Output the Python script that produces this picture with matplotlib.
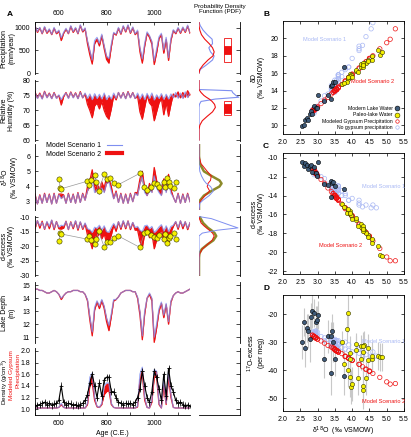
import numpy as np
import matplotlib
matplotlib.use('Agg')
import matplotlib.pyplot as plt
from matplotlib.patches import Rectangle
from matplotlib.lines import Line2D

plt.rcParams['font.family'] = ['Liberation Sans', 'DejaVu Sans']
plt.rcParams['font.size'] = 5
plt.rcParams['axes.linewidth'] = 0.6
plt.rcParams['axes.unicode_minus'] = False

# ---- model time series (10-yr steps, 500-1150 C.E.) ----
years = np.arange(500, 1151, 10)

precip_s1 = [1050, 920, 1010, 880, 1030, 900, 980, 860, 1010, 890,
             950, 780, 900, 990, 880, 1050, 920, 1010, 880, 1070,
             930, 1000, 720, 500, 290, 720, 790, 660, 860, 610,
             380, 320, 640, 900, 860, 1010, 880, 1050, 930, 1070,
             900, 1020, 870, 950, 560, 310, 660, 910, 830, 700,
             270, 530, 800, 880, 510, 790, 340, 770, 960, 890,
             1010, 900, 1020, 920, 1060, 900]
precip_s2 = [1040, 900, 1000, 870, 1010, 880, 960, 850, 990, 870,
             930, 720, 880, 970, 870, 1030, 900, 990, 870, 1050,
             910, 980, 650, 400, 200, 650, 740, 600, 820, 540,
             300, 220, 580, 880, 840, 990, 860, 1030, 910, 1050,
             880, 1000, 850, 920, 470, 220, 600, 880, 790, 640,
             190, 450, 760, 850, 440, 740, 280, 720, 940, 870,
             990, 880, 1000, 900, 1040, 880]

rh_s1 = [76.0, 74.0, 75.5, 73.8, 76.2, 74.2, 75.6, 73.9, 75.8, 74.0,
         75.2, 73.6, 75.0, 75.8, 74.0, 76.0, 74.2, 75.7, 73.9, 76.0,
         74.2, 75.8, 74.0, 75.5, 73.6, 75.6, 74.0, 75.4, 73.8, 75.8,
         73.6, 75.0, 73.8, 75.8, 74.0, 76.0, 74.1, 75.9, 73.9, 76.1,
         74.2, 75.9, 74.0, 75.8, 73.8, 75.5, 73.6, 75.7, 74.0, 75.8,
         73.5, 75.2, 74.0, 75.6, 73.7, 75.4, 73.8, 75.5, 74.2, 76.0,
         74.1, 75.8, 74.0, 76.2, 74.3, 75.9]
rh_s2 = [76.2, 74.2, 75.8, 74.0, 76.4, 74.4, 75.8, 74.0, 76.0, 74.2,
         75.0, 71.8, 74.6, 76.0, 74.2, 76.2, 74.4, 75.9, 74.0, 76.3,
         74.2, 75.5, 72.0, 70.0, 67.5, 71.5, 72.5, 70.5, 73.0, 70.0,
         68.0, 67.0, 70.5, 75.0, 73.5, 76.0, 74.2, 76.0, 74.0, 76.3,
         74.3, 76.0, 74.0, 74.8, 69.5, 67.0, 71.0, 75.0, 72.5, 71.5,
         66.5, 69.5, 72.5, 74.0, 68.5, 72.5, 68.0, 72.0, 75.5, 74.5,
         76.2, 74.2, 76.0, 74.4, 76.6, 75.0]

d18o_s1 = [3.45, 2.85, 3.40, 2.90, 3.50, 2.95, 3.45, 2.85, 3.50, 2.90,
           3.45, 3.20, 3.40, 2.90, 3.50, 2.95, 3.45, 2.90, 3.55, 2.95,
           3.50, 3.10, 3.70, 4.00, 4.55, 3.60, 3.80, 3.50, 3.90, 3.60,
           4.20, 4.30, 3.70, 3.20, 3.60, 2.95, 3.50, 2.90, 3.45, 2.90,
           3.50, 3.00, 3.55, 3.40, 4.20, 4.60, 3.60, 3.40, 3.80, 3.60,
           4.70, 3.90, 3.60, 3.40, 4.20, 3.60, 4.40, 3.55, 3.30, 2.95,
           3.50, 2.90, 3.45, 2.95, 3.50, 3.00]
d18o_s2 = [3.50, 2.85, 3.45, 2.90, 3.55, 2.95, 3.50, 2.85, 3.55, 2.90,
           3.50, 3.50, 3.45, 2.90, 3.55, 2.95, 3.50, 2.90, 3.60, 2.95,
           3.55, 3.10, 4.00, 4.40, 5.10, 4.00, 4.20, 3.80, 4.30, 3.90,
           4.60, 4.50, 4.00, 3.20, 3.70, 2.95, 3.55, 2.90, 3.50, 2.90,
           3.55, 3.00, 3.60, 3.60, 4.50, 5.00, 3.90, 3.40, 4.20, 3.80,
           5.25, 4.40, 3.90, 3.60, 4.50, 3.90, 4.80, 3.80, 3.30, 2.95,
           3.55, 2.90, 3.50, 2.95, 3.55, 3.00]

dex_s1 = [-13.5, -11.2, -13.0, -11.8, -14.0, -11.5, -13.2, -11.0, -13.8, -11.6,
          -13.4, -12.8, -13.0, -11.5, -14.2, -11.8, -13.5, -11.2, -14.0, -11.6,
          -13.8, -12.0, -14.0, -14.3, -15.3, -13.5, -13.8, -12.8, -14.5, -13.0,
          -15.0, -15.2, -13.5, -12.2, -13.8, -11.6, -13.6, -11.2, -13.5, -11.4,
          -13.8, -11.8, -13.6, -13.2, -14.5, -15.0, -13.0, -12.8, -14.0, -13.2,
          -15.3, -14.5, -13.4, -12.6, -14.8, -13.0, -15.0, -13.2, -12.8, -11.5,
          -13.6, -11.3, -13.2, -11.6, -13.8, -11.9]
dex_s2 = [-14.0, -11.2, -13.8, -11.4, -14.2, -11.7, -14.0, -11.1, -14.3, -11.5,
          -14.0, -14.1, -13.8, -11.4, -14.3, -11.6, -14.0, -11.4, -14.5, -11.7,
          -14.2, -12.3, -16.2, -17.9, -20.9, -16.1, -17.0, -15.3, -17.5, -15.8,
          -18.8, -18.3, -16.2, -12.7, -14.9, -11.6, -14.2, -11.4, -14.0, -11.3,
          -14.3, -11.9, -14.5, -14.4, -18.3, -20.5, -15.7, -13.6, -17.1, -15.4,
          -20.9, -17.9, -15.7, -14.4, -18.4, -15.8, -19.6, -15.3, -13.2, -11.6,
          -14.2, -11.3, -14.0, -11.6, -14.3, -11.9]

o17_s1 = [-29.0, -26.5, -31.5, -28.0, -30.0, -26.0, -32.0, -27.5, -29.5, -26.8,
          -31.0, -28.5, -29.0, -27.2, -32.0, -26.5, -30.5, -28.0, -29.5, -27.0,
          -31.5, -28.0, -30.5, -33.5, -35.0, -32.5, -30.0, -29.0, -33.0, -30.0,
          -32.5, -35.0, -32.0, -29.5, -31.0, -26.5, -30.5, -27.5, -31.5, -26.2,
          -29.5, -28.0, -32.0, -29.0, -34.0, -33.5, -31.0, -30.5, -32.5, -29.5,
          -35.0, -31.0, -33.0, -30.0, -32.0, -30.5, -34.5, -31.5, -29.0, -27.0,
          -31.0, -26.8, -29.5, -27.5, -30.5, -26.5]
o17_s2 = [-32.5, -27.5, -32.0, -28.0, -33.0, -28.5, -32.7, -27.6, -33.2, -28.2,
          -32.5, -32.8, -32.2, -27.9, -33.0, -28.4, -32.6, -28.1, -33.5, -28.6,
          -33.1, -29.6, -36.6, -39.8, -45.0, -36.4, -38.0, -35.0, -38.8, -35.8,
          -41.2, -40.4, -36.5, -30.4, -34.1, -28.5, -33.0, -28.0, -32.6, -28.1,
          -33.2, -29.0, -33.4, -33.6, -40.3, -44.2, -35.6, -31.8, -37.9, -35.1,
          -44.8, -39.6, -35.9, -33.5, -40.5, -35.7, -42.6, -35.2, -31.2, -28.5,
          -33.0, -28.1, -32.5, -28.4, -33.1, -28.9]

depth_s1 = [14.7, 14.7, 14.6, 14.6, 14.5, 14.4, 14.4, 14.5, 14.6, 14.5,
            14.3, 14.0, 14.2, 14.4, 14.5, 14.5, 14.6, 14.6, 14.6, 14.5,
            14.5, 14.3, 13.9, 12.6, 11.4, 13.3, 13.8, 13.4, 13.9, 13.4,
            12.5, 11.9, 12.8, 13.9, 13.9, 14.1, 14.4, 14.5, 14.6, 14.6,
            14.6, 14.5, 14.5, 14.1, 13.0, 11.1, 13.0, 14.0, 14.4, 14.0,
            11.0, 12.0, 13.2, 13.7, 12.7, 13.6, 12.2, 13.8, 14.2, 14.4,
            14.5, 14.4, 14.4, 14.5, 14.6, 14.7]
depth_s2 = [14.7, 14.7, 14.6, 14.6, 14.5, 14.4, 14.4, 14.5, 14.6, 14.5,
            14.3, 13.9, 14.2, 14.4, 14.5, 14.5, 14.6, 14.6, 14.6, 14.5,
            14.5, 14.3, 13.8, 12.3, 11.1, 13.1, 13.7, 13.2, 13.8, 13.2,
            12.2, 11.5, 12.6, 13.8, 13.9, 14.1, 14.4, 14.5, 14.6, 14.6,
            14.6, 14.5, 14.5, 14.0, 12.7, 10.8, 12.8, 14.0, 14.3, 13.8,
            10.6, 11.7, 13.0, 13.6, 12.5, 13.5, 12.0, 13.7, 14.2, 14.4,
            14.5, 14.4, 14.4, 14.5, 14.6, 14.7]

gyp_s1 = [1.02, 1.02, 1.02, 1.02, 1.02, 1.02, 1.02, 1.02, 1.02, 1.02,
          1.03, 1.10, 1.03, 1.02, 1.02, 1.02, 1.02, 1.02, 1.02, 1.02,
          1.02, 1.02, 1.10, 1.55, 1.62, 1.20, 1.05, 1.03, 1.10, 1.40,
          1.45, 1.45, 1.10, 1.03, 1.02, 1.02, 1.02, 1.02, 1.02, 1.02,
          1.02, 1.02, 1.02, 1.05, 1.60, 1.72, 1.20, 1.03, 1.02, 1.15,
          1.68, 1.65, 1.10, 1.02, 1.50, 1.10, 1.65, 1.25, 1.03, 1.02,
          1.02, 1.02, 1.02, 1.02, 1.02, 1.02]
gyp_s2 = [1.02, 1.02, 1.02, 1.02, 1.02, 1.02, 1.02, 1.02, 1.02, 1.02,
          1.03, 1.08, 1.03, 1.02, 1.02, 1.02, 1.02, 1.02, 1.02, 1.02,
          1.02, 1.02, 1.08, 1.40, 1.45, 1.15, 1.04, 1.03, 1.08, 1.25,
          1.30, 1.32, 1.08, 1.03, 1.02, 1.02, 1.02, 1.02, 1.02, 1.02,
          1.02, 1.02, 1.02, 1.04, 1.50, 1.60, 1.15, 1.03, 1.02, 1.12,
          1.55, 1.55, 1.08, 1.02, 1.40, 1.08, 1.55, 1.20, 1.03, 1.02,
          1.02, 1.02, 1.02, 1.02, 1.02, 1.02]

dens_obs = [1.05, 1.07, 1.08, 1.10, 1.12, 1.08, 1.10, 1.07, 1.09, 1.10,
            1.15, 1.40, 1.12, 1.08, 1.10, 1.09, 1.07, 1.08, 1.06, 1.08,
            1.10, 1.15, 1.25, 1.45, 1.60, 1.40, 1.20, 1.45, 1.22, 1.50,
            1.55, 1.55, 1.30, 1.30, 1.20, 1.12, 1.10, 1.08, 1.10, 1.09,
            1.10, 1.08, 1.12, 1.20, 1.35, 1.65, 1.40, 1.20, 1.12, 1.30,
            1.65, 1.55, 1.35, 1.15, 1.60, 1.22, 1.70, 1.40, 1.30, 1.15,
            1.10, 1.12, 1.08, 1.06, 1.07, 1.06]
dens_yerr = 0.06
dens_xerr = 5

# ---- paleo-lake water (gypsum hydration water) ----
paleo_age = [602, 605, 610, 720, 728, 735, 750, 757, 767, 790, 800, 815, 830, 847,
             939, 959, 970, 986, 998, 1012, 1022, 1040, 1047, 1054, 1062, 1068, 1082, 1093]
paleo_d18o = [4.47, 3.87, 3.85, 4.35, 4.10, 4.40, 4.75, 4.30, 3.70, 4.80, 4.47, 4.57, 4.25, 4.10,
              4.86, 3.94, 3.76, 3.94, 4.25, 4.16, 3.98, 4.30, 3.94, 4.57, 4.30, 4.00, 3.87, 4.30]
paleo_dex = [-18.2, -15.6, -15.8, -17.6, -16.6, -18.0, -19.3, -17.4, -14.9, -20.3, -18.4, -18.6, -17.3, -16.4,
             -20.4, -15.6, -15.2, -16.0, -17.0, -17.2, -16.1, -17.7, -15.8, -19.0, -17.2, -16.5, -15.4, -17.5]
paleo_o17 = [-36.5, -19.5, -25.5, -31.0, -30.7, -43.0, -35.0, -45.5, -30.0, -35.5, -32.0, -36.0, -31.5, -33.0,
             -35.5, -34.0, -38.0, -42.5, -36.0, -43.0, -46.0, -47.0, -36.0, -35.0, -33.5, -45.0, -40.0, -31.5]
paleo_o17_err = [6, 7, 5, 5, 4, 6, 5, 7, 4, 5, 5, 5, 4, 5, 5, 6, 5, 7, 4, 6, 6, 7, 5, 5, 4, 6, 6, 5]

# ---- modern lake water ----
modern_d18o = [2.55, 2.62, 2.65, 2.70, 2.72, 2.78, 2.80, 2.85, 2.90, 2.95,
               3.00, 3.20, 3.30, 3.38, 3.40, 3.42, 3.45, 3.50, 3.75, 2.98]
modern_dex = [-10.5, -10.9, -10.6, -10.8, -11.2, -10.9, -10.8, -11.5, -11.0, -11.6,
              -10.5, -12.8, -12.9, -12.5, -14.2, -12.7, -12.6, -13.0, -13.3, -11.9]
modern_o17 = [-30, -23, -32, -25, -26, -29, -21, -19, -19.5, -23,
              -20.5, -36, -28, -28, -41, -26, -30, -36, -42, -22]
modern_o17_err = [6, 5, 7, 5, 6, 8, 5, 6, 5, 6, 5, 7, 6, 5, 8, 6, 7, 6, 7, 5]

# ---- probability density functions (read from the PDF column) ----
pdf_p_lev = [1130, 1050, 950, 850, 750, 650, 560, 470, 380, 290, 180, 80, 0]
pdf_p_s1 = [0.0, 0.03, 0.10, 0.20, 0.32, 0.33, 0.24, 0.28, 0.37, 0.33, 0.18, 0.03, 0.0]
pdf_p_s2 = [0.0, 0.0, 0.02, 0.06, 0.14, 0.25, 0.33, 0.37, 0.34, 0.22, 0.10, 0.02, 0.0]
precip_box = [245, 780, 420, 600]

pdf_rh_lev = [80, 77.0, 76.6, 76.0, 75.0, 74.4, 73.8, 73.0, 72.0, 71.0, 69.5, 68.0, 66.5, 65.0, 63.5, 60]
pdf_rh_s1 = [0, 0, 0.8, 0.82, 0.9, 0.97, 0.4, 0.05, 0.01, 0, 0, 0, 0, 0, 0, 0]
pdf_rh_s2 = [0, 0, 0.02, 0.05, 0.12, 0.18, 0.25, 0.32, 0.38, 0.40, 0.33, 0.20, 0.08, 0.02, 0.0, 0]
rh_box = [68.3, 73.3, 69.0, 72.3]

pdf_o_lev = [6.8, 6.0, 5.5, 5.0, 4.7, 4.4, 4.2, 4.0, 3.7, 3.4, 3.1, 2.9, 2.45]
pdf_o_obs = [0, 0, 0.02, 0.12, 0.30, 0.50, 0.55, 0.50, 0.30, 0.12, 0.03, 0, 0]
pdf_o_s2 = [0, 0, 0.05, 0.20, 0.30, 0.28, 0.22, 0.20, 0.26, 0.15, 0.05, 0.01, 0]
pdf_o_s1 = [0, 0, 0, 0.02, 0.06, 0.12, 0.18, 0.28, 0.35, 0.25, 0.10, 0.02, 0]

pdf_d_lev = [-9.8, -10.5, -12.0, -13.0, -13.7, -14.5, -15.5, -16.5, -18.0, -19.5, -21.0, -22.5, -24, -30]
pdf_d_s1 = [0, 0.3, 0.6, 0.8, 0.95, 0.45, 0.08, 0.0, 0, 0, 0, 0, 0, 0]
pdf_d_obs = [0.02, 0.04, 0.10, 0.17, 0.22, 0.30, 0.38, 0.42, 0.35, 0.20, 0.07, 0.01, 0, 0]
pdf_d_s2 = [0, 0.01, 0.05, 0.12, 0.18, 0.25, 0.33, 0.37, 0.32, 0.20, 0.08, 0.02, 0, 0]

# ---- colours ----
blue = '#7f8ff0'
blue_pt = '#a9b8f4'
red = '#ee1111'
olive = '#8c8a2a'
modern_c = '#3f5b7a'
paleo_c = '#f4f000'

W, H = 411.0, 437.0


def box(l, t, r, b):
    return [l / W, 1 - b / H, (r - l) / W, (b - t) / H]


fig = plt.figure(figsize=(4.11, 4.37), dpi=100)

rows = [(22, 74), (80, 141), (144, 210), (216, 276), (282, 343), (348, 415)]
left_axes = [fig.add_axes(box(35, t, 190, b)) for t, b in rows]
pdf_axes = [fig.add_axes(box(199, t, 240, b)) for t, b in rows]


def model_panel(ax, s1, s2):
    ax.fill_between(years, s1, s2, color=red, lw=0)
    ax.plot(years, s2, color=red, lw=0.9)
    ax.plot(years, s1, color=blue, lw=0.9, alpha=0.75)


ylims = [(-20, 1130), (59.7, 80.2), (2.45, 6.8), (-30.3, -9.6), (10.55, 15.25), (0.9, 2.05)]
yticks = [[0, 500, 1000], [60, 65, 70, 75, 80], [3, 4, 5, 6],
          [-30, -25, -20, -15, -10], [11, 12, 13, 14, 15], [1.0, 1.2, 1.4, 1.6, 1.8, 2.0]]
ylabels = ['Precipitation\n(mm/year)', 'Relative\nHumidity (%)', 'δ$^{18}$O\n(‰ VSMOW)',
           'd-excess\n(‰ VSMOW)', 'Lake Depth\n(m)', None]
label_x = [-0.128, -0.128, -0.108, -0.128, -0.128, None]

model_panel(left_axes[0], precip_s1, precip_s2)
model_panel(left_axes[1], rh_s1, rh_s2)
model_panel(left_axes[2], d18o_s1, d18o_s2)
model_panel(left_axes[3], dex_s1, dex_s2)
model_panel(left_axes[4], depth_s1, depth_s2)
model_panel(left_axes[5], gyp_s1, gyp_s2)

# paleo data in the isotope panels
for ax, vals in [(left_axes[2], paleo_d18o), (left_axes[3], paleo_dex)]:
    ax.plot(paleo_age, vals, color='#999999', lw=0.5, zorder=3)
    ax.scatter(paleo_age, vals, s=14, facecolor=paleo_c, edgecolor='#333300', lw=0.4, zorder=4)

# measured density
left_axes[5].errorbar(years, dens_obs, yerr=dens_yerr, xerr=dens_xerr, color='black',
                      lw=0.8, elinewidth=0.5, capsize=0, marker='+', ms=2.5, mew=0.5, zorder=4)

for i, ax in enumerate(left_axes):
    ax.set_xlim(500, 1150)
    ax.set_ylim(*ylims[i])
    ax.set_yticks(yticks[i])
    ax.set_xticks([600, 800, 1000])
    ax.set_xticks([500, 700, 900, 1100], minor=True)
    for s in ['right', 'top', 'bottom']:
        ax.spines[s].set_visible(False)
    ax.tick_params(axis='both', which='both', direction='in', labelsize=5, length=2.5, width=0.5)
    ax.tick_params(axis='x', which='both', bottom=False, labelbottom=False)
    if ylabels[i]:
        ax.set_ylabel(ylabels[i], fontsize=5, linespacing=1.1)
        ax.yaxis.set_label_coords(label_x[i], 0.5)

left_axes[5].yaxis.set_major_formatter(matplotlib.ticker.FormatStrFormatter('%.1f'))

top = left_axes[0]
top.spines['top'].set_visible(True)
top.tick_params(axis='x', which='both', top=True, labeltop=True)

bot = left_axes[5]
bot.spines['bottom'].set_visible(True)
bot.tick_params(axis='x', which='both', bottom=True, labelbottom=True)
bot.set_xlabel('Age (C.E.)', fontsize=5, labelpad=2)

fig.text(5 / W, 1 - 382 / H, 'Density (g/cm$^3$)', rotation=90, ha='center', va='center', fontsize=4.6)
fig.text(11.5 / W, 1 - 375 / H, 'Modeled Gypsum', rotation=90, ha='center', va='center', fontsize=4.6, color=red)
fig.text(18 / W, 1 - 370 / H, 'Precipitation', rotation=90, ha='center', va='center', fontsize=4.6, color=red)

# legend for the time series
h1 = Line2D([], [], color=blue, lw=0.8)
h2 = Line2D([], [], color=red, lw=3)
left_axes[2].legend([h1, h2], ['Model Scenario 1', 'Model Scenario 2'], loc='upper left',
                    bbox_to_anchor=(0.04, 1.1), markerfirst=False, frameon=False, fontsize=5,
                    handlelength=2.2, labelspacing=0.2, borderpad=0.2)

# ---- PDF column ----
for i, ax in enumerate(pdf_axes):
    ax.set_xlim(0, 1)
    ax.set_ylim(*ylims[i])
    ax.set_yticks(yticks[i])
    for s in ['left', 'top', 'bottom']:
        ax.spines[s].set_visible(False)
    ax.tick_params(axis='y', left=False, right=True, labelleft=False, direction='in',
                   length=3, width=0.5)
    ax.set_xticks([])
pdf_axes[5].spines['bottom'].set_visible(True)

pdf_axes[0].plot(pdf_p_s1, pdf_p_lev, color=blue, lw=0.8)
pdf_axes[0].plot(pdf_p_s2, pdf_p_lev, color=red, lw=0.8)
pdf_axes[1].plot(pdf_rh_s1, pdf_rh_lev, color=blue, lw=0.8)
pdf_axes[1].plot(pdf_rh_s2, pdf_rh_lev, color=red, lw=0.8)
pdf_axes[2].plot(pdf_o_obs, pdf_o_lev, color=olive, lw=1.8)
pdf_axes[2].plot(pdf_o_s2, pdf_o_lev, color=red, lw=0.7)
pdf_axes[2].plot(pdf_o_s1, pdf_o_lev, color=blue, lw=0.7)
pdf_axes[3].plot(pdf_d_obs, pdf_d_lev, color=olive, lw=1.8)
pdf_axes[3].plot(pdf_d_s2, pdf_d_lev, color=red, lw=0.7)
pdf_axes[3].plot(pdf_d_s1, pdf_d_lev, color=blue, lw=0.7)

for ax, (lo, hi, flo, fhi) in [(pdf_axes[0], precip_box), (pdf_axes[1], rh_box)]:
    ax.add_patch(Rectangle((0.6, lo), 0.17, hi - lo, fill=False, ec=red, lw=0.6))
    ax.add_patch(Rectangle((0.6, flo), 0.17, fhi - flo, fc=red, ec=red, lw=0.6))

fig.text(220 / W, 1 - 4 / H, 'Probability Density\nFunction (PDF)', ha='center', va='top',
         fontsize=4.5, linespacing=1.1)

# ---- right-hand scatter panels ----
d18o_s1a, d18o_s2a = np.array(d18o_s1), np.array(d18o_s2)
dD_s1 = np.array(dex_s1) + 8 * d18o_s1a
dD_s2 = np.array(dex_s2) + 8 * d18o_s2a
modern_dD = np.array(modern_dex) + 8 * np.array(modern_d18o)
paleo_dD = np.array(paleo_dex) + 8 * np.array(paleo_d18o)

axB = fig.add_axes(box(283, 21, 404, 134))
axC = fig.add_axes(box(283, 153, 404, 274))
axD = fig.add_axes(box(283, 295, 404, 411))

sets = [
    (axB, dD_s1, dD_s2, modern_dD, paleo_dD, None, None),
    (axC, dex_s1, dex_s2, modern_dex, paleo_dex, None, None),
    (axD, o17_s1, o17_s2, modern_o17, paleo_o17, modern_o17_err, paleo_o17_err),
]
for ax, ys1, ys2, ym, yp, em, ep in sets:
    if em is not None:
        ax.errorbar(modern_d18o, ym, yerr=em, fmt='none', ecolor='#c8c8c8', elinewidth=0.8, zorder=1)
        ax.errorbar(paleo_d18o, yp, yerr=ep, fmt='none', ecolor='#c8c8c8', elinewidth=0.8, zorder=1)
    ax.scatter(d18o_s1, ys1, s=10, facecolors='none', edgecolors=blue_pt, lw=0.5, zorder=2)
    ax.scatter(d18o_s2, ys2, s=10, facecolors='none', edgecolors=red, lw=0.5, zorder=3)
    ax.scatter(modern_d18o, ym, s=9, c=modern_c, edgecolors='black', lw=0.4, zorder=4)
    ax.scatter(paleo_d18o, yp, s=9, c=paleo_c, edgecolors='#333300', lw=0.4, zorder=5)
    ax.set_xlim(2.0, 5.5)
    ax.set_xticks(np.arange(2.0, 5.51, 0.5))
    ax.xaxis.set_major_formatter(matplotlib.ticker.FormatStrFormatter('%.1f'))
    ax.tick_params(direction='in', labelsize=5, length=2.5, width=0.5, top=True, right=True)

axB.set_ylim(9, 22)
axB.set_yticks([10, 12, 14, 16, 18, 20])
axB.set_ylabel('δD\n(‰ VSMOW)', fontsize=5, linespacing=1.1)
axC.set_ylim(-22.3, -9.5)
axC.set_yticks([-22, -20, -18, -16, -14, -12, -10])
axC.set_ylabel('d-excess\n(‰ VSMOW)', fontsize=5, linespacing=1.1)
axD.set_ylim(-54.6, -13.2)
axD.set_yticks([-50, -40, -30, -20])
axD.set_ylabel('$^{17}$O-excess\n(per meg)', fontsize=5, linespacing=1.1)
axD.set_xlabel('δ$^{18}$O  (‰ VSMOW)', fontsize=5, labelpad=1.5)
for ax in (axB, axC, axD):
    ax.yaxis.set_label_coords(-0.15, 0.5)

axB.text(3.2, 19.9, 'Model Scenario 1', color=blue_pt, fontsize=4, ha='center', va='center')
axB.text(4.6, 15.0, 'Model Scenario 2', color=red, fontsize=4, ha='center', va='center')
axC.text(4.9, -13.05, 'Model Scenario 1', color=blue_pt, fontsize=4, ha='center', va='center')
axC.text(3.66, -19.3, 'Model Scenario 2', color=red, fontsize=4, ha='center', va='center')
axD.text(4.9, -29.9, 'Model Scenario 1', color=blue_pt, fontsize=4, ha='center', va='center')
axD.text(4.9, -51.3, 'Model Scenario 2', color=red, fontsize=4, ha='center', va='center')

lh = [Line2D([], [], ls='none', marker='o', ms=3.5, mfc=modern_c, mec='black', mew=0.4),
      Line2D([], [], ls='none', marker='o', ms=3.5, mfc=paleo_c, mec='#333300', mew=0.4),
      Line2D([], [], ls='none', marker='o', ms=2.5, mfc='none', mec=red, mew=0.5),
      Line2D([], [], ls='none', marker='o', ms=2.5, mfc='none', mec=blue_pt, mew=0.5)]
axB.legend(lh, ['Modern Lake Water', 'Paleo-lake Water', 'Modeled Gypsum Precipitation',
                'No gypsum precipitation'], loc='lower right', bbox_to_anchor=(0.99, 0.0),
           markerfirst=False, frameon=False, fontsize=3.7, handlelength=0.8,
           handletextpad=0.4, labelspacing=0.25, borderpad=0.3)

for lbl, px, py in [('A', 10, 14), ('B', 266, 14), ('C', 266, 147), ('D', 266, 289)]:
    fig.text(px / W, 1 - py / H, lbl, fontsize=6, fontweight='bold', ha='center', va='center')

fig.savefig('out.png', dpi=100)
